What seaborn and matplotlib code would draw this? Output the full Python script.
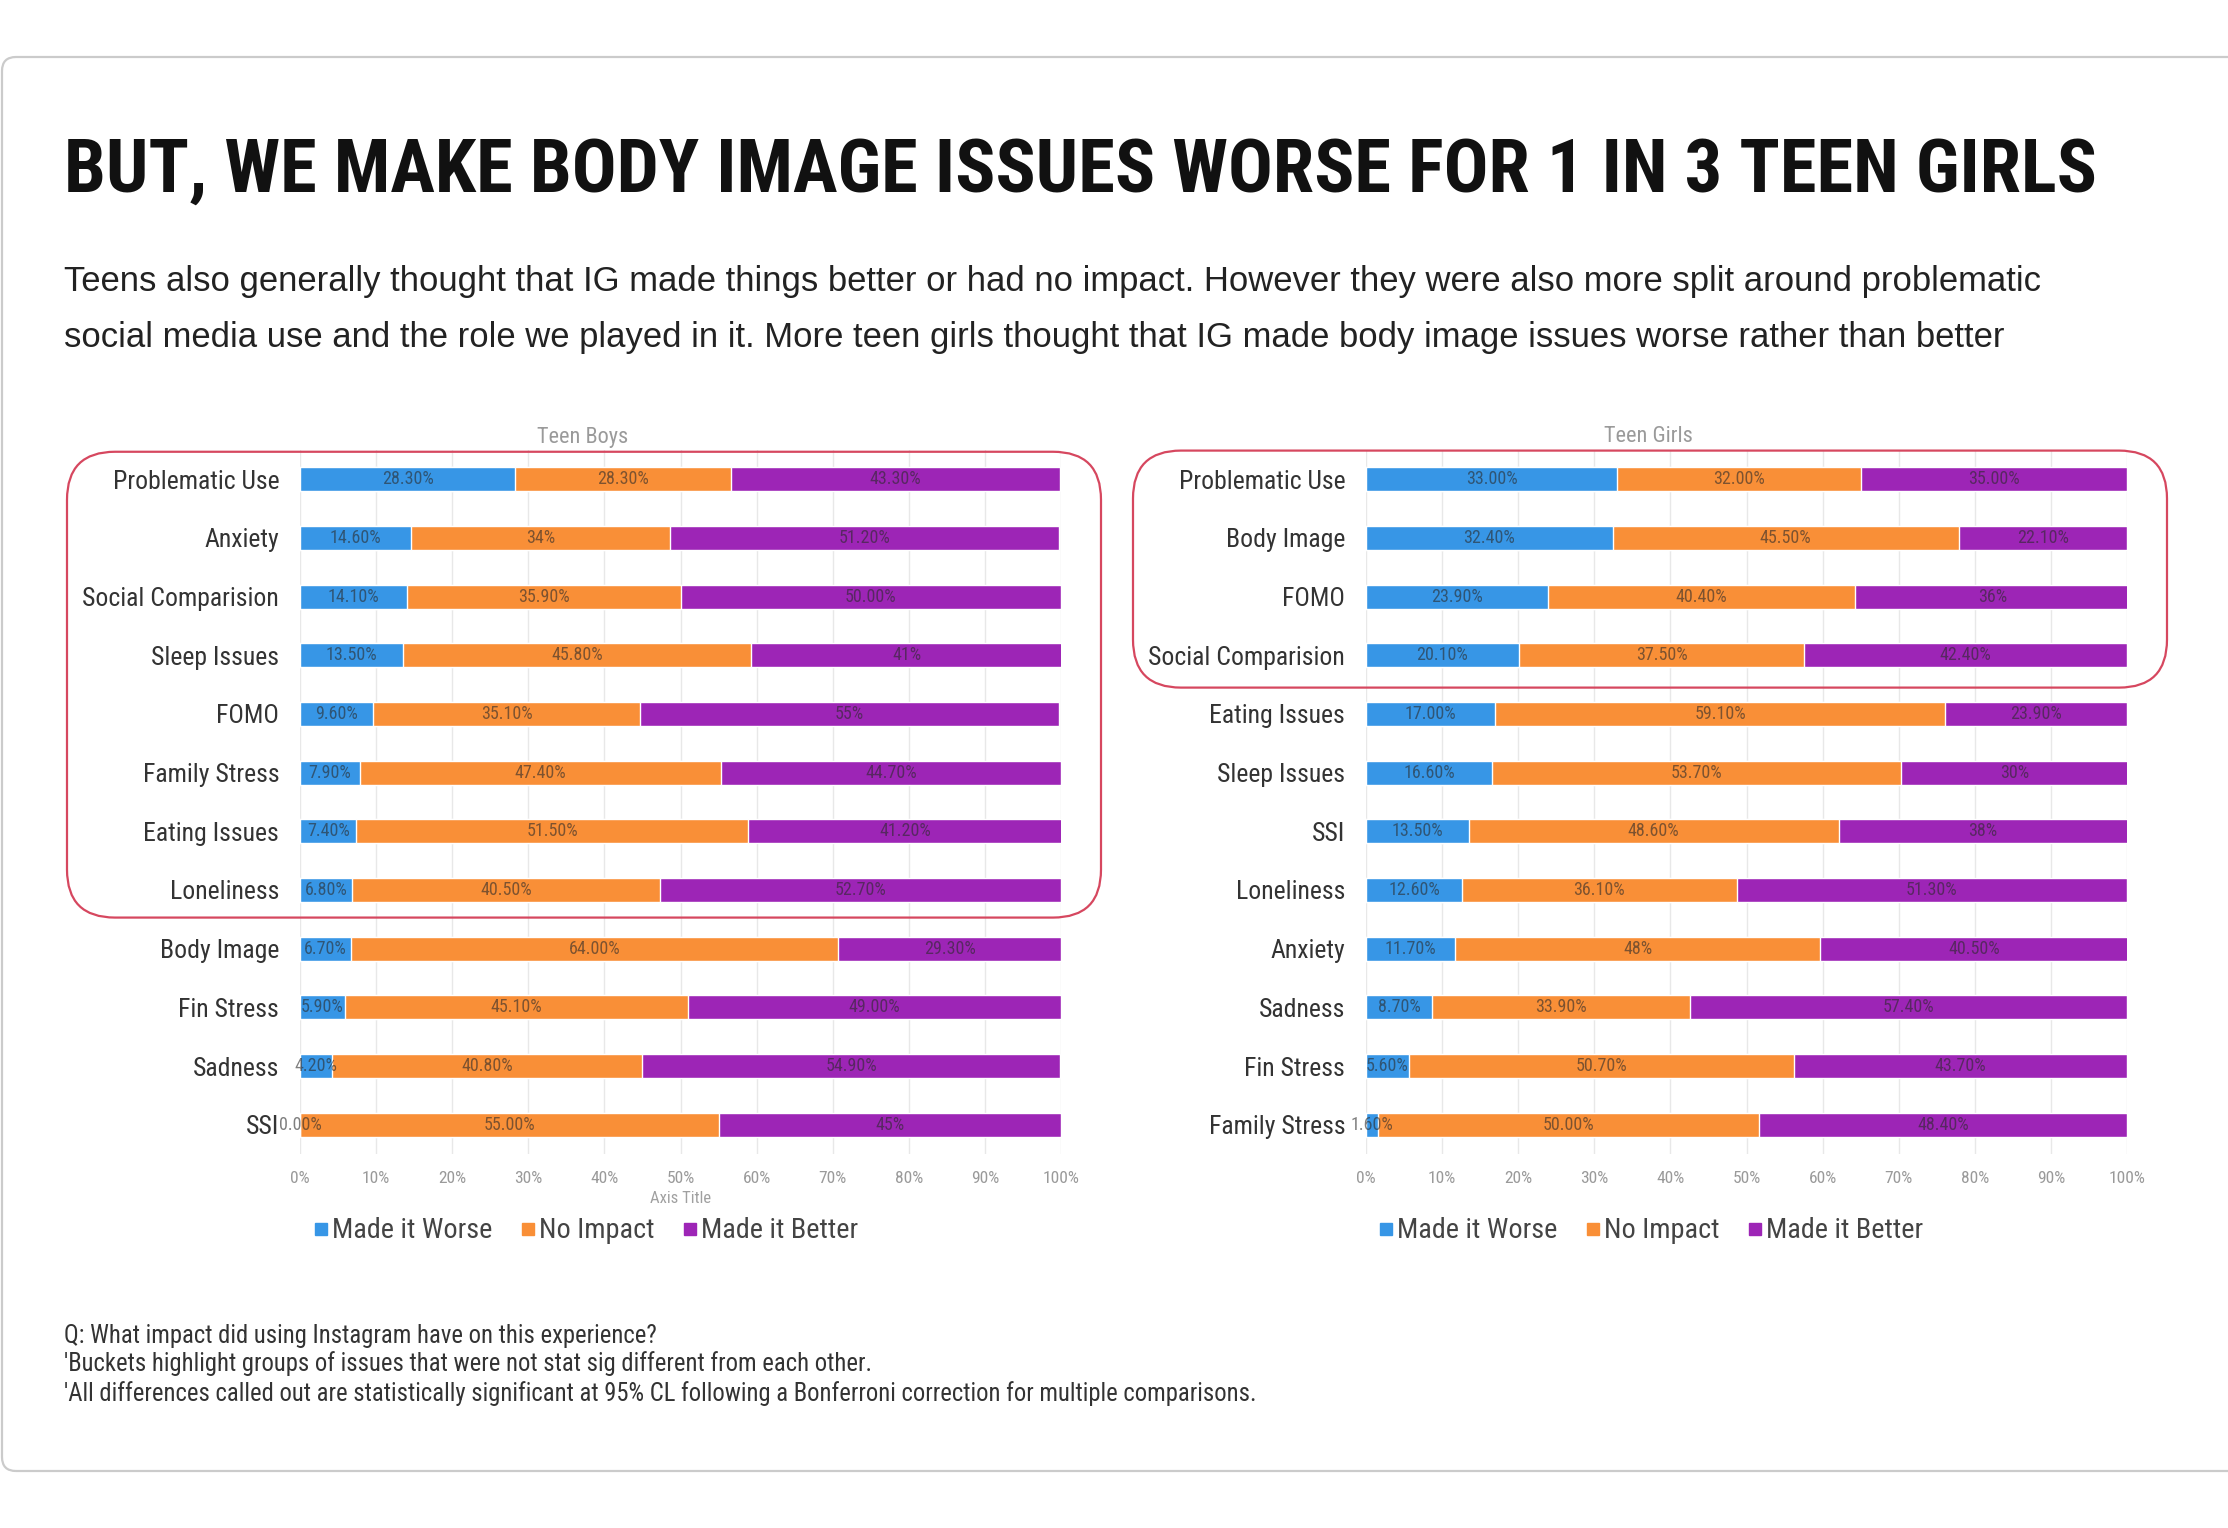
import matplotlib
matplotlib.use("Agg")
import matplotlib.pyplot as plt
import seaborn as sns
import pandas as pd
from matplotlib import font_manager
from matplotlib.patches import FancyBboxPatch
from matplotlib.lines import Line2D
from matplotlib.transforms import IdentityTransform

# ---- data (values kept as printed on the chart) ----
boys_issues = ["Problematic Use", "Anxiety", "Social Comparision", "Sleep Issues", "FOMO",
               "Family Stress", "Eating Issues", "Loneliness", "Body Image", "Fin Stress",
               "Sadness", "SSI"]
boys_worse = ["28.30", "14.60", "14.10", "13.50", "9.60", "7.90", "7.40", "6.80", "6.70", "5.90", "4.20", "0.00"]
boys_noimpact = ["28.30", "34", "35.90", "45.80", "35.10", "47.40", "51.50", "40.50", "64.00", "45.10", "40.80", "55.00"]
boys_better = ["43.30", "51.20", "50.00", "41", "55", "44.70", "41.20", "52.70", "29.30", "49.00", "54.90", "45"]

girls_issues = ["Problematic Use", "Body Image", "FOMO", "Social Comparision", "Eating Issues",
                "Sleep Issues", "SSI", "Loneliness", "Anxiety", "Sadness", "Fin Stress",
                "Family Stress"]
girls_worse = ["33.00", "32.40", "23.90", "20.10", "17.00", "16.60", "13.50", "12.60", "11.70", "8.70", "5.60", "1.60"]
girls_noimpact = ["32.00", "45.50", "40.40", "37.50", "59.10", "53.70", "48.60", "36.10", "48", "33.90", "50.70", "50.00"]
girls_better = ["35.00", "22.10", "36", "42.40", "23.90", "30", "38", "51.30", "40.50", "57.40", "43.70", "48.40"]

series_names = ["Made it Worse", "No Impact", "Made it Better"]
BLUE, ORANGE, PURPLE = "#3796e6", "#f98f37", "#9d25b6"

TITLE = "BUT, WE MAKE BODY IMAGE ISSUES WORSE FOR 1 IN 3 TEEN GIRLS"
SUB1 = ("Teens also generally thought that IG made things better or had no impact. "
        "However they were also more split around problematic")
SUB2 = ("social media use and the role we played in it. More teen girls thought that IG "
        "made body image issues worse rather than better")
NOTES = ["Q: What impact did using Instagram have on this experience?",
         "'Buckets highlight groups of issues that were not stat sig different from each other.",
         "'All differences called out are statistically significant at 95% CL following a "
         "Bonferroni correction for multiple comparisons."]


def find_narrow():
    entries = font_manager.fontManager.ttflist
    names = {f.name for f in entries}
    for n in ["Roboto Condensed", "Liberation Sans Narrow", "Open Sans Condensed",
              "Noto Sans Condensed", "Noto Sans SemiCondensed", "DejaVu Sans Condensed"]:
        if n in names:
            return n, "normal"
    for f in entries:
        if f.name in ("DejaVu Sans", "Noto Sans", "Open Sans", "Roboto") and \
                str(f.stretch) in ("condensed", "semi-condensed", "extra-condensed"):
            return f.name, str(f.stretch)
    return "Liberation Sans", "normal"


sns.set_theme(style="white")
NARROW, STRETCH = find_narrow()
SANS = "Liberation Sans"
plt.rcParams["font.family"] = [NARROW, "DejaVu Sans"]
plt.rcParams["font.stretch"] = STRETCH

W, H = 2228, 1528
fig = plt.figure(figsize=(W / 100, H / 100), dpi=100)
fig.patch.set_facecolor("white")
renderer = fig.canvas.get_renderer()


def fx(px):
    return px / W


def fy(py):
    return 1 - py / H


def size_for(text, width_px, **kw):
    t = fig.text(0, 0, text, fontsize=20, **kw)
    s = 20 * width_px / t.get_window_extent(renderer).width
    t.remove()
    return s


TICK_SIZE = size_for("Social Comparision", 197)
LABEL_SIZE = size_for("28.30%", 52)
XTICK_SIZE = size_for("100%", 37)
LEG_SIZE = size_for("Made it Worse", 160)


def draw_panel(ax, issues, worse, noimp, better):
    w = [float(v) for v in worse]
    n = [float(v) for v in noimp]
    b = [float(v) for v in better]
    df = pd.DataFrame({
        "issue": issues,
        "worse": w,
        "mid": [a + c for a, c in zip(w, n)],
        "total": [a + c + d for a, c, d in zip(w, n, b)],
    })
    for col, colr in [("total", PURPLE), ("mid", ORANGE), ("worse", BLUE)]:
        sns.barplot(data=df, x=col, y="issue", orient="h", color=colr, width=0.41,
                    saturation=1, errorbar=None, ax=ax, zorder=2)
    # segment labels
    for i in range(len(issues)):
        starts = [0, w[i], w[i] + n[i]]
        for s, v, txt in zip(starts, [w[i], n[i], b[i]], [worse[i], noimp[i], better[i]]):
            ax.text(s + v / 2, i, txt + "%", ha="center", va="center", fontsize=LABEL_SIZE,
                    color="#2a2a2a", alpha=0.6, zorder=3)
    ax.set_xlim(0, 100)
    ax.set_ylim(len(issues) - 0.5, -0.5)
    ticks = list(range(0, 101, 10))
    ax.set_xticks(ticks)
    ax.set_xticklabels([f"{t}%" for t in ticks])
    ax.grid(axis="x", color="#e8e8e8", lw=1)
    ax.grid(axis="y", visible=False)
    ax.set_axisbelow(True)
    for sp in ax.spines.values():
        sp.set_visible(False)
    ax.tick_params(axis="x", length=0, labelsize=XTICK_SIZE, labelcolor="#9a9a9a", pad=12)
    ax.tick_params(axis="y", length=0, labelsize=TICK_SIZE, labelcolor="#333333", pad=15)
    ax.set_ylabel("")
    ax.set_xlabel("")


ax_b = fig.add_axes([fx(300), fy(1154), fx(1061) - fx(300), fy(450) - fy(1154)])
ax_g = fig.add_axes([fx(1366), fy(1154), fx(2127) - fx(1366), fy(450) - fy(1154)])
draw_panel(ax_b, boys_issues, boys_worse, boys_noimpact, boys_better)
draw_panel(ax_g, girls_issues, girls_worse, girls_noimpact, girls_better)
ax_b.set_xlabel("Axis Title", fontsize=XTICK_SIZE * 0.95, color="#a0a0a0", labelpad=4)

fig.text(fx(583), fy(437), "Teen Boys", ha="center", va="center", fontsize=16, color="#9a9a9a")
fig.text(fx(1648), fy(437), "Teen Girls", ha="center", va="center", fontsize=16, color="#9a9a9a")

# legends
handles = [Line2D([], [], marker="s", ls="none", color=c, markersize=LEG_SIZE * 0.45)
           for c in [BLUE, ORANGE, PURPLE]]
for cx in [586, 1651]:
    fig.legend(handles, series_names, loc="center", bbox_to_anchor=(fx(cx), fy(1231)), ncol=3,
               frameon=False, fontsize=LEG_SIZE, handlelength=0.5, handletextpad=0.15,
               columnspacing=1.0, labelcolor="#444444", borderpad=0)


# bucket outlines
def bucket(ax, x0, x1, r0, r1):
    y_top = ax.transData.transform((0, r0))[1]
    y_bot = ax.transData.transform((0, r1))[1]
    p = FancyBboxPatch((x0, y_bot), x1 - x0, y_top - y_bot,
                       boxstyle="round,pad=0,rounding_size=48", transform=IdentityTransform(),
                       fc="none", ec="#d6475f", lw=1.6, zorder=5)
    fig.add_artist(p)


bucket(ax_b, 67, 1101, -0.47, 7.47)
bucket(ax_g, 1133, 2167, -0.49, 3.55)

# card border
card = FancyBboxPatch((2, H - 1471), W + 60, 1471 - 57, boxstyle="round,pad=0,rounding_size=14",
                      transform=IdentityTransform(), fc="none", ec="#cbcbcb", lw=1.6, zorder=0)
fig.add_artist(card)


def fit(t, width_px):
    bb = t.get_window_extent(renderer)
    t.set_fontsize(t.get_fontsize() * width_px / bb.width)


t_title = fig.text(fx(64), fy(192), TITLE, ha="left", va="baseline", fontsize=50,
                   fontweight="bold", color="#111111")
fit(t_title, 2036)

s1 = fig.text(fx(64), fy(281), SUB1, ha="left", va="center", fontsize=22, color="#222222",
              family=[SANS, "DejaVu Sans"], stretch="normal")
fit(s1, 1964)
fig.text(fx(64), fy(337), SUB2, ha="left", va="center", fontsize=s1.get_fontsize(),
         color="#222222", family=[SANS, "DejaVu Sans"], stretch="normal")

note_y = [1336, 1364, 1394]
nts = [fig.text(fx(64), fy(y), s, ha="left", va="center", fontsize=14, color="#333333")
       for s, y in zip(NOTES, note_y)]
fit(nts[2], 1198)
for t in nts[:2]:
    t.set_fontsize(nts[2].get_fontsize())

fig.savefig("out.png", dpi=100, facecolor="white")
